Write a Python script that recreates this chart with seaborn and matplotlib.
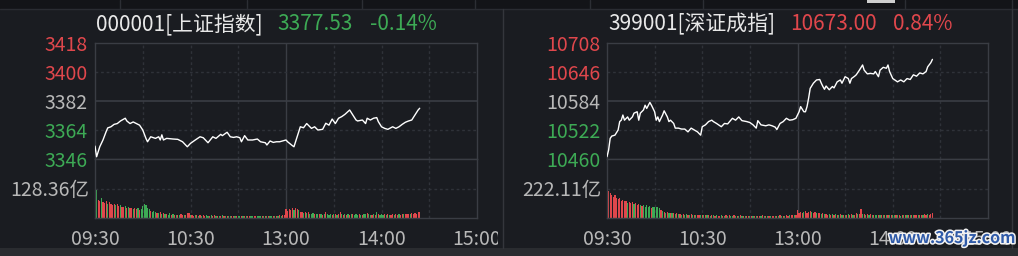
import matplotlib
matplotlib.use('Agg')
import matplotlib.pyplot as plt
import seaborn as sns
from matplotlib.patches import Rectangle
from matplotlib.lines import Line2D
import matplotlib.patheffects as pe

# ---------------- data ----------------
time_ticks = [0, 60, 120, 180, 240]
time_labels = ['09:30', '10:30', '13:00', '14:00', '15:00']

sh_title = '000001[上证指数]'
sh_last = '3377.53'
sh_pct = '-0.14%'
sh_yticks = [3346, 3364, 3382, 3400, 3418]
sh_vol_label = '128.36亿'
sh_vol_max = 256.72

sh_min = [0, 1, 3, 5, 7, 8, 10, 12, 14, 16,
          19, 20, 22, 24, 26, 28, 30, 32, 33, 35,
          38, 40, 41, 42, 43, 45, 49, 52, 55, 58,
          60, 63, 66, 68, 71, 74, 76, 79, 80, 83,
          85, 87, 89, 91, 92, 94, 96, 99, 102, 104,
          107, 108, 110, 112, 114, 116, 120, 121, 124, 125,
          127, 129, 131, 133, 134, 136, 138, 140, 143, 145,
          147, 149, 151, 153, 155, 157, 160, 162, 164, 165,
          168, 170, 171, 173, 175, 177, 178, 180, 182, 184,
          187, 189, 191, 193, 195, 197, 199, 201, 203, 204]
sh_px = [3354.0, 3347.4, 3353.6, 3357.8, 3363.0, 3365.3, 3366.0, 3367.5, 3368.0, 3369.6,
         3371.3, 3369.6, 3368.0, 3369.0, 3368.0, 3367.0, 3364.0, 3358.8, 3356.7, 3359.8,
         3358.8, 3359.8, 3357.8, 3361.0, 3357.8, 3358.8, 3358.4, 3358.2, 3356.7, 3353.6,
         3355.7, 3357.8, 3359.8, 3359.2, 3356.1, 3359.8, 3358.8, 3361.3, 3360.5, 3362.6,
         3359.8, 3359.4, 3359.8, 3359.2, 3356.7, 3360.5, 3357.8, 3357.8, 3358.4, 3356.7,
         3356.1, 3354.7, 3357.2, 3356.3, 3356.7, 3356.7, 3357.8, 3356.7, 3354.3, 3353.6,
         3359.8, 3366.0, 3365.4, 3368.0, 3367.0, 3365.0, 3366.0, 3364.0, 3364.4, 3368.2,
         3367.0, 3370.8, 3368.0, 3371.3, 3372.3, 3373.7, 3376.4, 3373.3, 3370.2, 3369.6,
         3370.2, 3368.0, 3371.3, 3370.2, 3371.3, 3371.7, 3369.2, 3366.0, 3365.0, 3364.4,
         3366.0, 3365.0, 3366.0, 3367.5, 3368.8, 3369.6, 3370.2, 3373.3, 3376.4, 3377.5]

# per-minute turnover (亿)
sh_vol = [252, 122, 80, 72, 88, 70, 65, 75, 60, 68, 62,
          58, 62, 55, 60, 52, 55, 50, 48, 52, 45,
          48, 42, 45, 40, 44, 38, 42, 36, 40, 52,
          60, 55, 45, 38, 30, 28, 32, 25, 22, 20,
          24, 18, 20, 16, 18, 15, 20, 14, 16, 13,
          15, 12, 14, 18, 13, 12, 15, 22, 20, 14,
          12, 10, 13, 11, 9, 12, 10, 14, 9, 11,
          10, 8, 11, 9, 12, 8, 10, 9, 8, 11,
          9, 8, 10, 7, 9, 8, 10, 8, 7, 9,
          8, 10, 7, 9, 8, 7, 10, 8, 9, 7,
          8, 9, 7, 10, 8, 9, 7, 8, 10, 9,
          8, 9, 10, 8, 9, 11, 10, 12, 14,
          38, 30, 40, 34, 42, 36, 44, 38, 33, 28,
          26, 22, 28, 20, 24, 19, 18, 22, 16, 17,
          19, 16, 18, 15, 17, 24, 16, 14, 18, 15,
          16, 17, 14, 18, 26, 16, 15, 17, 14, 16,
          15, 18, 16, 14, 17, 15, 16, 14, 15, 18,
          16, 21, 16, 15, 14, 17, 15, 24, 16, 14,
          16, 15, 17, 14, 16, 15, 14, 16, 15, 17,
          14, 16, 15, 17, 16, 18, 16, 19, 17, 21,
          18, 22, 19, 24, 28]
sh_vol_dir = ("gg" "rrgrrrgrr"
              "rrgrrgrrgr" "grrgrrgrgg" "ggggrgggrg" "rgrgrggrgr" "grgrrgrrrg"
              "rrgrgrgrrg" "grgrrgrgrg" "rgrggrrgrg" "grgrgrrggr" "rgggrgrgrg"
              "grgrgrgrr"
              "rrrrrgrrgr" "rgrgrgggrg" "grgrgrgggr" "grgrrgrgrg" "rgrgggrgrg"
              "grggrgrgrg" "ggrgrgrrgr" "rgrrgrrrgr" "rrrrr")

sz_title = '399001[深证成指]'
sz_last = '10673.00'
sz_pct = '0.84%'
sz_yticks = [10460, 10522, 10584, 10646, 10708]
sz_vol_label = '222.11亿'
sz_vol_max = 444.22

sz_min = [0, 1, 2, 3, 5, 7, 8, 9, 10, 11,
          13, 14, 16, 17, 19, 20, 21, 23, 24, 25,
          27, 28, 30, 31, 32, 33, 35, 36, 38, 39,
          40, 42, 43, 45, 47, 49, 51, 53, 55, 57,
          59, 60, 62, 64, 66, 67, 69, 72, 74, 76,
          79, 81, 83, 85, 88, 90, 92, 94, 95, 97,
          100, 102, 104, 106, 107, 109, 111, 113, 115, 117,
          119, 121, 122, 124, 125, 126, 127, 128, 130, 132,
          134, 135, 136, 137, 138, 140, 142, 143, 145, 147,
          148, 150, 152, 153, 154, 156, 157, 159, 161, 162,
          164, 166, 168, 169, 171, 172, 174, 176, 177, 178,
          180, 183, 185, 187, 189, 191, 193, 195, 197, 199,
          201, 202, 204, 205]
sz_px = [10465, 10479, 10504, 10509, 10511, 10522, 10540, 10543, 10554, 10543,
         10550, 10543, 10550, 10558, 10561, 10543, 10558, 10565, 10575, 10568,
         10581, 10575, 10561, 10543, 10550, 10540, 10554, 10563, 10550, 10540,
         10543, 10536, 10526, 10526, 10524, 10524, 10518, 10526, 10522, 10518,
         10511, 10529, 10533, 10540, 10543, 10540, 10536, 10529, 10536, 10535,
         10547, 10543, 10550, 10542, 10540, 10538, 10533, 10526, 10542, 10533,
         10531, 10533, 10531, 10528, 10523, 10536, 10540, 10547, 10543, 10544,
         10547, 10561, 10572, 10561, 10561, 10572, 10590, 10611, 10622, 10629,
         10630, 10622, 10615, 10609, 10616, 10608, 10615, 10612, 10625, 10629,
         10622, 10636, 10632, 10622, 10632, 10637, 10640, 10650, 10661, 10650,
         10642, 10643, 10642, 10647, 10636, 10650, 10656, 10654, 10661, 10647,
         10632, 10625, 10629, 10625, 10632, 10630, 10640, 10637, 10644, 10642,
         10647, 10657, 10666, 10673]

sz_vol = [440, 200, 190, 175, 160, 170, 150, 140, 150, 130, 135,
          125, 130, 115, 120, 110, 118, 105, 112, 100, 108,
          95, 90, 100, 85, 95, 80, 88, 75, 82, 86,
          84, 80, 72, 60, 50, 45, 40, 44, 36, 40,
          34, 38, 30, 34, 28, 32, 26, 30, 24, 28,
          26, 24, 28, 22, 25, 21, 24, 20, 26, 22,
          20, 22, 19, 24, 18, 21, 19, 17, 22, 18,
          17, 20, 18, 16, 21, 17, 19, 16, 18, 20,
          16, 18, 15, 19, 17, 15, 18, 16, 14, 17,
          15, 18, 16, 14, 17, 15, 16, 19, 15, 17,
          16, 14, 17, 15, 18, 16, 15, 17, 19, 16,
          18, 17, 20, 18, 21, 19, 22, 20, 24,
          62, 40, 48, 36, 44, 52, 38, 46, 55, 42,
          38, 44, 34, 40, 36, 30, 34, 28, 32, 26,
          30, 26, 28, 24, 30, 26, 22, 28, 24, 26,
          22, 25, 28, 24, 30, 26, 24, 34, 28, 30,
          66, 32, 28, 26, 30, 24, 28, 22, 26, 24,
          22, 26, 24, 20, 24, 22, 26, 20, 24, 22,
          20, 22, 19, 24, 21, 18, 22, 20, 23, 19,
          21, 24, 20, 22, 25, 21, 24, 22, 26, 24,
          28, 24, 30, 26, 32, 34]
sz_vol_dir = ("g" "rrrrrrrrrr"
              "rrgrrrgrrr" "grgggggrgg" "gggrgrgrgr" "grgrgrgrgg" "rgrgrgrrgr"
              "grgrgrgrgr" "rgrgrgrggr" "grgrgrgrrg" "rgrgrrgrgr" "grgrrgrgrg"
              "rgrrgrrgr"
              "rrrrgrrrrg" "rrgrrgrgrr" "grgrgrgrgr" "grgrrgrrgr" "rgrgrgrgrg"
              "grgrgrgrgr" "ggrgrgrgrg" "rgrgrrgrrg" "rrgrrr")

# ---------------- style ----------------
sns.set_theme(style='dark')
plt.rcParams['font.family'] = ['Noto Sans CJK SC', 'DejaVu Sans']

BG = '#1a1c21'
RED = '#e0474c'
GREEN = '#3daa55'
GRAY = '#b8b8b8'
WHITE = '#e8e8e8'
GRID = '#3a3d44'
DGRID = '#2f3239'
FS = 14
TFS = 15

W, H = 1018, 256
fig = plt.figure(figsize=(W / 100, H / 100), dpi=100, facecolor=BG)


def fx(p):
    return p / W


def fy(p):
    return 1 - p / H


def frect(x0, y0, x1, y1, color, z=0):
    fig.patches.append(Rectangle((fx(x0), fy(y1)), fx(x1 - x0), (y1 - y0) / H,
                                 transform=fig.transFigure, color=color, zorder=z, lw=0))


def fline(xs, ys, color, z=1, lw=1):
    fig.lines.append(Line2D([fx(x) for x in xs], [fy(y) for y in ys],
                            transform=fig.transFigure, color=color, zorder=z, lw=lw))


# top strip and bottom band
frect(0, 0, W, 9, '#131418')
for sx in [120, 247, 362, 475, 590, 703, 905, 1012]:
    fline([sx, sx], [0, 9], '#2c2e34')
frect(867, 0, 895, 3, '#cfcfcf')
fline([0, W], [9, 9], '#2a2c32')
frect(0, 248, W, H, '#2a2c30')


def panel(x0, x1, mins, px, yticks, vol, vdir, vmax, vlabel, title):
    axp = fig.add_axes([fx(x0), fy(159), fx(x1 - x0), (159 - 43) / H])
    axv = fig.add_axes([fx(x0), fy(218), fx(x1 - x0), (218 - 159) / H])
    for ax in (axp, axv):
        ax.set_facecolor(BG)
        for s in ax.spines.values():
            s.set_visible(True)
            s.set_color(GRID)
            s.set_linewidth(1)
        ax.grid(False)
        for v in [30, 60, 90, 150, 180, 210]:
            ax.axvline(v, color=DGRID, lw=1, ls=(0, (2, 2)), zorder=0)
        ax.axvline(120, color=GRID, lw=1, zorder=0)
        ax.set_xlim(0, 240)

    # price
    axp.axhline(yticks[1], color=DGRID, lw=1, ls=(0, (2, 2)), zorder=0)
    axp.axhline(yticks[3], color=DGRID, lw=1, ls=(0, (2, 2)), zorder=0)
    axp.axhline(yticks[2], color=GRID, lw=1.2, zorder=0)
    sns.lineplot(x=mins, y=px, color='white', lw=1, ax=axp, zorder=3)
    axp.set_ylim(yticks[0], yticks[-1])
    axp.set_xlim(0, 240)
    axp.set_yticks(yticks)
    axp.set_yticklabels([str(t) for t in yticks], fontsize=FS)
    for lab, c in zip(axp.get_yticklabels(), [GREEN, GREEN, GRAY, RED, RED]):
        lab.set_color(c)
    axp.tick_params(axis='y', length=0, pad=5)
    axp.set_xticks([])
    axp.set_xlabel('')
    axp.set_ylabel('')

    # volume
    n = min(len(vol), len(vdir))
    vm = list(range(n))
    sns.barplot(x=vm, y=vol[:n], hue=list(vdir[:n]), palette={'r': RED, 'g': GREEN},
                native_scale=True, dodge=False, width=0.75, linewidth=0, saturation=1,
                errorbar=None, legend=False, ax=axv, zorder=2)
    axv.axhline(vmax / 2, color=DGRID, lw=1, ls=(0, (2, 2)), zorder=0)
    axv.set_ylim(0, vmax)
    axv.set_xlim(0, 240)
    axv.set_yticks([vmax / 2])
    axv.set_yticklabels([vlabel], fontsize=FS, color=GRAY)
    axv.tick_params(axis='y', length=0, pad=4)
    axv.set_xticks(time_ticks)
    axv.set_xticklabels(time_labels, fontsize=FS, color=GRAY)
    axv.tick_params(axis='x', length=0, pad=8)
    axv.set_xlabel('')
    axv.set_ylabel('')

    # title
    fig.text(fx(x0 + 1), fy(24), title, color=WHITE, fontsize=TFS, ha='left', va='center')
    return axp, axv


panel(95, 477, sh_min, sh_px, sh_yticks, sh_vol, sh_vol_dir, sh_vol_max, sh_vol_label, sh_title)
fig.text(fx(277), fy(24), sh_last, color=GREEN, fontsize=TFS, ha='left', va='center')
fig.text(fx(370), fy(24), sh_pct, color=GREEN, fontsize=TFS, ha='left', va='center')

panel(607, 988, sz_min, sz_px, sz_yticks, sz_vol, sz_vol_dir, sz_vol_max, sz_vol_label, sz_title)
fig.text(fx(790), fy(24), sz_last, color=RED, fontsize=TFS, ha='left', va='center')
fig.text(fx(893), fy(24), sz_pct, color=RED, fontsize=TFS, ha='left', va='center')

# panel separator (cuts the left 15:00 label)
frect(498, 222, 520, 248, BG, z=5)
fline([503, 503], [9, 248], '#34363c', z=6)
fline([1012, 1012], [9, 248], '#34363c', z=6)

# watermark (sits over the right panel's last time labels, as in the reference)
fig.text(fx(952), fy(238), 'www.365jz.com', color='#2f5aa8', fontsize=11.5,
         fontweight='bold', ha='center', va='center', zorder=10,
         path_effects=[pe.withStroke(linewidth=2.2, foreground='#f2f2f2')])

fig.savefig('out.png', dpi=100, facecolor=BG)
